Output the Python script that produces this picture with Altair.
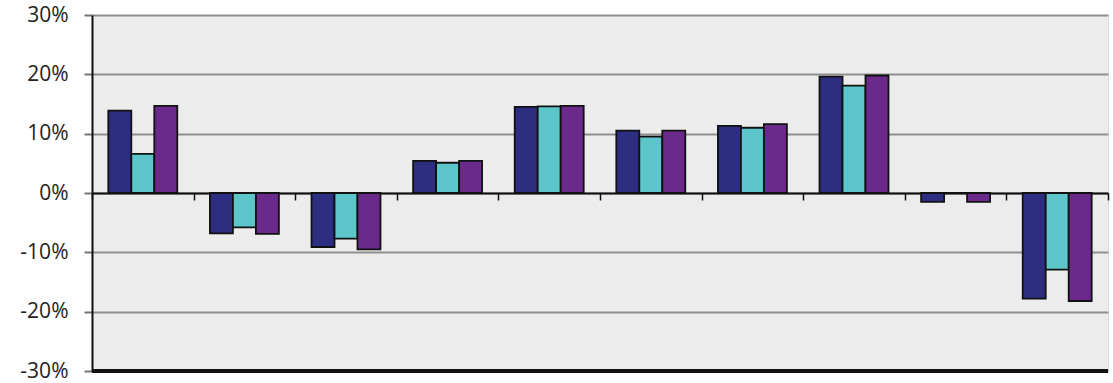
import altair as alt
import pandas as pd

categories = ["1", "2", "3", "4", "5", "6", "7", "8", "9", "10"]
series_names = ["Series 1", "Series 2", "Series 3"]
s1 = [13.9, -6.8, -9.1, 5.4, 14.5, 10.5, 11.3, 19.6, -1.5, -17.8]
s2 = [6.6, -5.8, -7.7, 5.1, 14.6, 9.5, 11.0, 18.1, 0.0, -12.9]
s3 = [14.7, -6.9, -9.5, 5.4, 14.7, 10.5, 11.6, 19.8, -1.5, -18.2]
y_ticks = [-0.3, -0.2, -0.1, 0.0, 0.1, 0.2, 0.3]
colors = ["#2d2e82", "#5cc6cb", "#6b2a8b"]

rows = []
for i, c in enumerate(categories):
    for name, vals in zip(series_names, [s1, s2, s3]):
        rows.append({"cat": c, "series": name, "value": vals[i] / 100})
df = pd.DataFrame(rows)

W, H = 1016, 356

bars = alt.Chart(df).mark_bar(stroke="#111111", strokeWidth=1.8).encode(
    x=alt.X("cat:N", sort=categories,
            scale=alt.Scale(paddingInner=0, paddingOuter=0),
            axis=alt.Axis(title=None, labels=False, tickBand="extent",
                          offset=-H / 2, domainColor="#111111", domainWidth=2,
                          tickColor="#111111", tickWidth=1.5, tickSize=7,
                          grid=False)),
    xOffset=alt.XOffset("series:N", sort=series_names,
                        scale=alt.Scale(paddingInner=0, paddingOuter=0.71)),
    y=alt.Y("value:Q", scale=alt.Scale(domain=[-0.3, 0.3], nice=False),
            axis=alt.Axis(title=None, values=y_ticks,
                          labelExpr="round(datum.value*100) + '%'",
                          labelFont="Open Sans", labelFontSize=21, labelColor="#222222",
                          labelPadding=16, tickSize=8, tickColor="#777777",
                          tickWidth=2, domainColor="#111111", domainWidth=2,
                          gridColor="#8f8f8f", gridWidth=2, gridOpacity=1)),
    color=alt.Color("series:N", sort=series_names,
                    scale=alt.Scale(domain=series_names, range=colors),
                    legend=None),
)

bottom = alt.Chart(df).mark_rule(color="#111111", strokeWidth=2.5).encode(
    y=alt.datum(-0.3)
)

chart = alt.layer(bars, bottom).properties(
    width=W, height=H,
    autosize=alt.AutoSizeParams(type="none"),
    padding={"left": 92, "top": 15, "right": 5, "bottom": 12},
    background="white",
).configure_view(fill="#ececec", stroke="#dcdcdc", strokeWidth=1)

chart.save("out.html", embed_options={"renderer": "svg", "actions": False})
